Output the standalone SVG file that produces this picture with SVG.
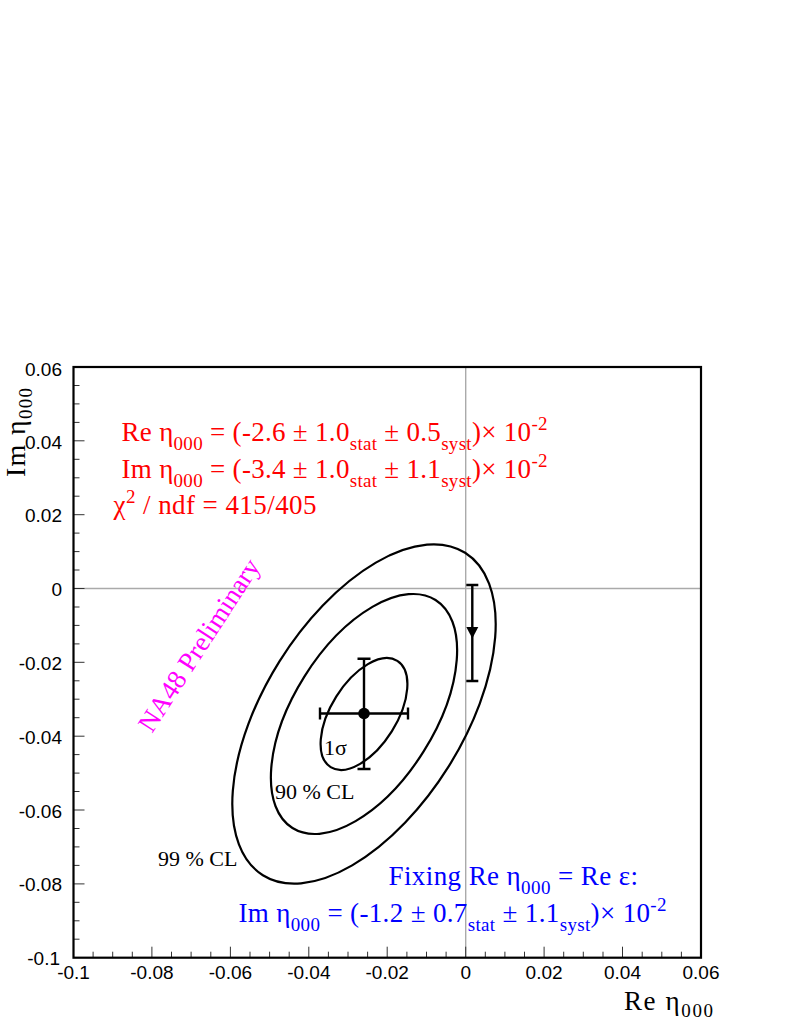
<svg xmlns="http://www.w3.org/2000/svg" width="797" height="1032" viewBox="0 0 797 1032">
<style>
.ax{font-family:"Liberation Sans",Arial,sans-serif;font-size:19px;fill:#000}
.axy{text-anchor:end}
.axx{text-anchor:middle}
.tm{font-family:"Liberation Serif","Times New Roman",serif}
.red{fill:#ff0000;font-size:27px}
.blue{fill:#0000ff;font-size:27px}
.blk{fill:#000;font-size:22px}
.tick{stroke:#333;stroke-width:1}
.ell{fill:none;stroke:#000;stroke-width:2.2}
.bar{stroke:#000;stroke-width:2.4;fill:none}
.grid{stroke:#aaa;stroke-width:1.4}
</style>
<rect width="797" height="1032" fill="#fff"/>

<g id="grid">
<line class="grid" x1="73.5" y1="588.5" x2="701" y2="588.5"/>
<line class="grid" x1="465.7" y1="367" x2="465.7" y2="957.7"/>
</g>

<g id="ticks">
<path class="tick" d="M73.5 367h11M73.5 385.5h6M73.5 403.9h6M73.5 422.4h6M73.5 440.8h11M73.5 459.3h6M73.5 477.8h6M73.5 496.2h6M73.5 514.7h11M73.5 533.1h6M73.5 551.6h6M73.5 570h6M73.5 588.5h11M73.5 607h6M73.5 625.4h6M73.5 643.9h6M73.5 662.3h11M73.5 680.8h6M73.5 699.2h6M73.5 717.7h6M73.5 736.2h11M73.5 754.6h6M73.5 773.1h6M73.5 791.5h6M73.5 810h11M73.5 828.5h6M73.5 846.9h6M73.5 865.4h6M73.5 883.9h11M73.5 902.3h6M73.5 920.8h6M73.5 939.2h6"/>
<path class="tick" d="M93.1 957.7v-6M112.7 957.7v-6M132.3 957.7v-6M151.9 957.7v-11M171.5 957.7v-6M191.1 957.7v-6M210.8 957.7v-6M230.4 957.7v-11M250 957.7v-6M269.6 957.7v-6M289.2 957.7v-6M308.8 957.7v-11M328.4 957.7v-6M348 957.7v-6M367.6 957.7v-6M387.2 957.7v-11M406.9 957.7v-6M426.5 957.7v-6M446.1 957.7v-6M465.7 957.7v-11M485.3 957.7v-6M504.9 957.7v-6M524.5 957.7v-6M544.1 957.7v-11M563.7 957.7v-6M583.3 957.7v-6M603 957.7v-6M622.5 957.7v-11M642.2 957.7v-6M661.8 957.7v-6M681.4 957.7v-6"/>
</g>

<g id="frame">
<rect x="73.5" y="367" width="627.5" height="590.7" fill="none" stroke="#000" stroke-width="2.2"/>
</g>

<g id="y-labels" class="ax axy">
<text x="62" y="376">0.06</text>
<text x="62" y="449">0.04</text>
<text x="62" y="522">0.02</text>
<text x="62" y="596">0</text>
<text x="62" y="670">-0.02</text>
<text x="62" y="744">-0.04</text>
<text x="62" y="818">-0.06</text>
<text x="62" y="891">-0.08</text>
<text x="60" y="965">-0.1</text>
</g>

<g id="x-labels" class="ax axx">
<text x="73.5" y="979">-0.1</text>
<text x="151.9" y="979">-0.08</text>
<text x="230.4" y="979">-0.06</text>
<text x="308.8" y="979">-0.04</text>
<text x="387.2" y="979">-0.02</text>
<text x="465.7" y="979">0</text>
<text x="544.1" y="979">0.02</text>
<text x="622.5" y="979">0.04</text>
<text x="701" y="979">0.06</text>
</g>

<g id="axis-titles" class="tm" fill="#000">
<text x="624" y="1010" font-size="27" textLength="89" lengthAdjust="spacing">Re  η<tspan font-size="19" dy="7">000</tspan></text>
<text transform="translate(25,477) rotate(-90)" font-size="28" textLength="89" lengthAdjust="spacing">Im η<tspan font-size="19" dy="7">000</tspan></text>
</g>

<g id="contours">
<g id="ellipse-99" transform="translate(364,714) rotate(-57.9)"><ellipse class="ell" rx="190.3" ry="99.6"/></g>
<g id="ellipse-90" transform="translate(364,714) rotate(-57.9)"><ellipse class="ell" rx="134.6" ry="70.4"/></g>
<g id="ellipse-1s" transform="translate(364,714) rotate(-57.9)"><ellipse class="ell" rx="62.7" ry="32.8"/></g>
</g>

<g id="measurement">
<path class="bar" d="M320 713.5H408M320 707.5v12M408 707.5v12M364 658.7V769M357.5 658.7h13M357.5 769h13"/>
<circle cx="364" cy="713.5" r="5.8" fill="#000"/>
</g>

<g id="fixed-measurement">
<path class="bar" d="M472.3 585V681M466.3 585h12M466.3 681h12"/>
<polygon points="466.3,627 478.3,627 472.3,638.5" fill="#000"/>
</g>

<g id="contour-labels" class="tm blk">
<text x="324" y="755">1σ</text>
<text x="275" y="799">90 % CL</text>
<text x="158" y="866">99 % CL</text>
</g>

<g id="results-red" class="tm red">
<text x="121.5" y="441" textLength="426" lengthAdjust="spacing">Re η<tspan font-size="19" dy="9">000</tspan><tspan dy="-9"> = (-2.6 ± 1.0</tspan><tspan font-size="19" dy="9">stat</tspan><tspan dy="-9"> ± 0.5</tspan><tspan font-size="19" dy="9">syst</tspan><tspan dy="-9">)× 10</tspan><tspan font-size="19" dy="-11">-2</tspan></text>
<text x="121.5" y="477.5" textLength="426" lengthAdjust="spacing">Im η<tspan font-size="19" dy="9">000</tspan><tspan dy="-9"> = (-3.4 ± 1.0</tspan><tspan font-size="19" dy="9">stat</tspan><tspan dy="-9"> ± 1.1</tspan><tspan font-size="19" dy="9">syst</tspan><tspan dy="-9">)× 10</tspan><tspan font-size="19" dy="-11">-2</tspan></text>
<text x="113.5" y="513.5" textLength="203" lengthAdjust="spacing">χ<tspan font-size="19" dy="-11">2</tspan><tspan dy="11"> / ndf = 415/405</tspan></text>
</g>

<g id="results-blue" class="tm blue">
<text x="388.5" y="884.5" textLength="249.5" lengthAdjust="spacing">Fixing Re η<tspan font-size="19" dy="9">000</tspan><tspan dy="-9"> = Re ε:</tspan></text>
<text x="238.5" y="921.5" textLength="428" lengthAdjust="spacing">Im η<tspan font-size="19" dy="9">000</tspan><tspan dy="-9"> = (-1.2 ± 0.7</tspan><tspan font-size="19" dy="9">stat</tspan><tspan dy="-9"> ± 1.1</tspan><tspan font-size="19" dy="9">syst</tspan><tspan dy="-9">)× 10</tspan><tspan font-size="19" dy="-11">-2</tspan></text>
</g>

<g id="preliminary">
<text class="tm" transform="translate(152,734) rotate(-57)" font-size="27" fill="#ff00ff">NA48 Preliminary</text>
</g>
</svg>
